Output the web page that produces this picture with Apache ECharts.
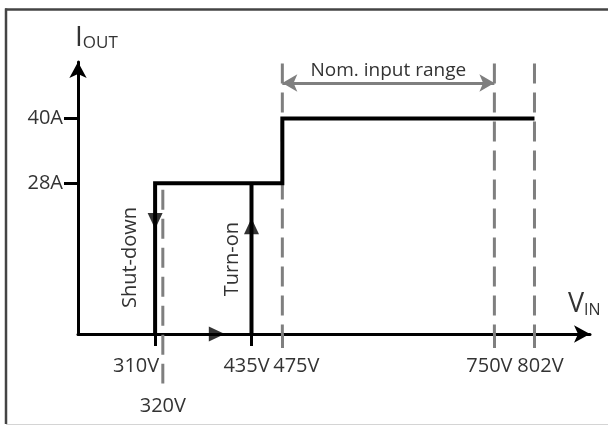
<!DOCTYPE html>
<html><head><meta charset="utf-8">
<script src="https://cdn.jsdelivr.net/npm/echarts@6/dist/echarts.min.js"></script>
<style>html,body{margin:0;padding:0;background:#fff}#c{width:608px;height:426px}</style>
</head><body><div id="c"></div>
<script>
// ---- data ----
const xTickValues = [310, 320, 435, 475, 750, 802];
const yTickValues = [28, 40];
const curveVolts = [310, 310, 475, 475, 802];
const curveAmps = [0, 28, 28, 40, 40];
const turnOnVolts = [435, 435];
const turnOnAmps = [0, 28];
const guideVolts = [320, 475, 750, 802];
const guideTopAmps = [26.8, 50.2, 50.2, 50.2];
const guideBottomAmps = [-9.2, 0, 0, 0];
const nomRangeVolts = [475, 750];
const nomRangeAmps = 46.6;
const arrowVolts = [310, 435, 390];
const arrowAmps = [21, 20, 0];
const arrowDirs = [180, 0, -90];
const notes = [
  { text: 'Shut-down', volt: 310, amp: 14.2 },
  { text: 'Turn-on', volt: 435, amp: 13.9 }
];

// ---- styling ----
const FONT = 'Open Sans';
const noteDx = [-25, -19];
const labelShift = { 310: 'l19', 320: 'c', 435: 'l5', 475: 'r14', 750: 'l5', 802: 'r6' };
const labelRich = {};
['c', 'l5', 'l19', 'r6', 'r14'].forEach(k => {
  const n = k === 'c' ? 0 : +k.slice(1);
  labelRich[k] = {
    fontFamily: FONT, fontSize: 20, color: '#333', lineHeight: 40,
    padding: k[0] === 'l' ? [0, 2 * n, 0, 0] : (k[0] === 'r' ? [0, 0, 0, 2 * n] : 0)
  };
});
const labelsA = xTickValues.filter((v, i) => i % 2 === 0);
const labelsB = xTickValues.filter((v, i) => i % 2 === 1);
const makeLabel = values => ({
  show: true, customValues: values, margin: 12, lineHeight: 40, hideOverlap: false,
  fontFamily: FONT, fontSize: 20, color: '#333', rich: labelRich,
  formatter: v => (v === 320 ? '\n' : '') + '{' + labelShift[v] + '|' + v + 'V}'
});

const chart = echarts.init(document.getElementById('c'));

const guideSeries = guideVolts.map((v, i) => ({
  type: 'line', z: 1, clip: false, symbol: 'none', silent: true,
  data: [[v, guideTopAmps[i]], [v, guideBottomAmps[i]]],
  lineStyle: { color: '#7f7f7f', width: 3, type: [20, 9] }
}));

const option = {
  animation: false,
  backgroundColor: '#fff',
  grid: { left: 78, right: 18, top: 62, bottom: 91 },
  xAxis: [{
    type: 'value', min: 210, max: 874,
    name: '{b|V}{s|IN}', nameLocation: 'end', nameGap: -22,
    nameTextStyle: {
      align: 'left', verticalAlign: 'bottom', padding: [0, 0, 16, 0],
      rich: {
        b: { fontFamily: FONT, fontSize: 27, color: '#333', verticalAlign: 'bottom', lineHeight: 30 },
        s: { fontFamily: FONT, fontSize: 16, color: '#333', verticalAlign: 'bottom', lineHeight: 22 }
      }
    },
    splitLine: { show: false },
    axisLine: { show: true, symbol: ['none', 'arrow'], symbolSize: [13, 16], lineStyle: { color: '#000', width: 3 } },
    axisTick: { show: true, customValues: [310, 435], length: 12, lineStyle: { color: '#000', width: 3 } },
    axisLabel: makeLabel(labelsA)
  }, {
    type: 'value', min: 210, max: 874, position: 'bottom',
    splitLine: { show: false },
    axisLine: { show: false },
    axisLabel: makeLabel(labelsB),
    axisTick: { show: true, customValues: [475, 750, 802], length: 14, lineStyle: { color: '#7f7f7f', width: 3 } }
  }],
  yAxis: {
    type: 'value', min: 0, max: 50.5,
    name: '{b|I}{s|OUT}', nameLocation: 'end', nameGap: 10,
    nameTextStyle: {
      align: 'left', padding: [0, 0, 0, -3],
      rich: {
        b: { fontFamily: FONT, fontSize: 28, color: '#333', verticalAlign: 'bottom', lineHeight: 30 },
        s: { fontFamily: FONT, fontSize: 17, color: '#333', verticalAlign: 'bottom', lineHeight: 24 }
      }
    },
    splitLine: { show: false },
    axisLine: { show: true, symbol: ['none', 'arrow'], symbolSize: [13, 16], lineStyle: { color: '#000', width: 3 } },
    axisTick: { show: true, customValues: yTickValues, length: 14, lineStyle: { color: '#000', width: 3 } },
    axisLabel: {
      customValues: yTickValues, margin: 15, hideOverlap: false,
      fontFamily: FONT, fontSize: 20, color: '#333',
      formatter: v => v + 'A'
    }
  },
  series: [
    ...guideSeries,
    {
      type: 'line', z: 2, symbol: 'none', silent: true,
      data: [],
      markLine: {
        silent: true, symbol: ['arrow', 'arrow'], symbolSize: [13, 15],
        lineStyle: { color: '#7f7f7f', width: 3, type: 'solid' },
        label: { show: true, position: 'middle', formatter: 'Nom. input range', fontFamily: FONT, fontSize: 19, color: '#333', distance: 3 },
        data: [[{ coord: [nomRangeVolts[0], nomRangeAmps] }, { coord: [nomRangeVolts[1], nomRangeAmps] }]]
      }
    },
    {
      type: 'line', z: 3, symbol: 'none', silent: true,
      data: curveVolts.map((v, i) => [v, curveAmps[i]]),
      lineStyle: { color: '#000', width: 4, join: 'miter' }
    },
    {
      type: 'line', z: 3, symbol: 'none', silent: true,
      data: turnOnVolts.map((v, i) => [v, turnOnAmps[i]]),
      lineStyle: { color: '#000', width: 4 }
    },
    {
      type: 'scatter', z: 4, silent: true, symbol: 'triangle', symbolSize: [15, 16],
      itemStyle: { color: '#000' },
      data: arrowVolts.map((v, i) => ({ value: [v, arrowAmps[i]], symbolRotate: arrowDirs[i] }))
    }
  ]
};
chart.setOption(option);

const graphics = [
  { type: 'line', id: 'frameTop', silent: true, shape: { x1: 5, y1: 9.5, x2: 608, y2: 9.5 }, style: { stroke: '#444', lineWidth: 2.5 } },
  { type: 'line', id: 'frameLeft', silent: true, shape: { x1: 6, y1: 8.5, x2: 6, y2: 424 }, style: { stroke: '#444', lineWidth: 2.5 } },
  { type: 'line', id: 'frameBottom', silent: true, shape: { x1: 6, y1: 424.5, x2: 608, y2: 424.5 }, style: { stroke: '#d4d4d4', lineWidth: 1 } }
];
notes.forEach((n, i) => {
  const p = chart.convertToPixel({ gridIndex: 0 }, [n.volt, n.amp]);
  graphics.push({
    type: 'text', id: 'note' + i, silent: true,
    x: p[0] + noteDx[i], y: p[1], rotation: Math.PI / 2,
    style: { text: n.text, fontFamily: FONT, fontSize: 20, fill: '#333', align: 'center', verticalAlign: 'middle' }
  });
});
chart.setOption({ graphic: graphics });
</script></body></html>
